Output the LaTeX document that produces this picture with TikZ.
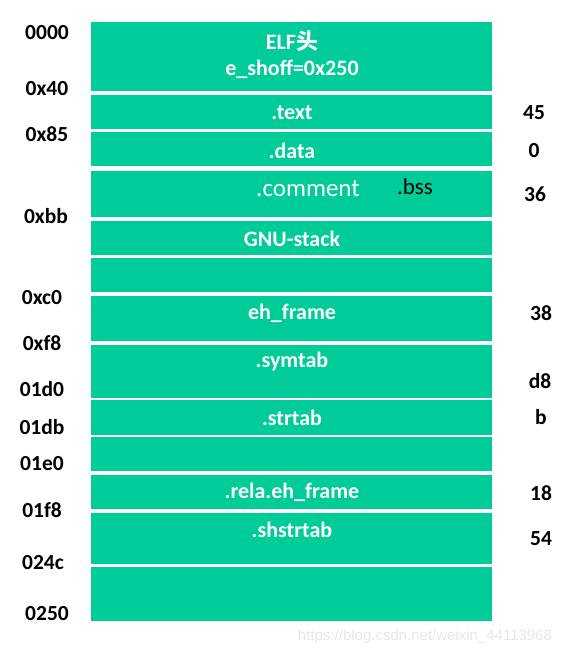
\documentclass[tikz,border=0pt]{standalone}
\usepackage{fontspec}
\setmainfont{Carlito}
\newfontfamily\cjk{Noto Sans CJK SC}
\newfontfamily\wmfont{Liberation Sans}
\definecolor{sec}{RGB}{0,204,153}
\definecolor{wm}{RGB}{232,232,232}
\begin{document}
\begin{tikzpicture}[x=1pt,y=-1pt,
  box/.style={fill=sec, draw=none, inner sep=0pt, minimum width=401pt},
  lab/.style={text=white, font=\fontsize{22}{23}\selectfont\bfseries, inner sep=0pt},
  off/.style={text=black, font=\fontsize{21.5}{22}\selectfont\bfseries, inner sep=0pt},
  sz/.style={text=black, font=\fontsize{21.5}{22}\selectfont\bfseries, inner sep=0pt}]
\useasboundingbox (0,0) rectangle (570,655);
% section boxes (top, bottom)
\foreach \n/\t/\b in {1/22/91, 2/95/129, 3/132/166, 4/171/217, 5/221/255, 6/258/292,
  7/296/341, 8/345/398, 9/400/435, 10/437/471, 11/475/509, 12/513/564, 13/567/621}{
  \node[box, minimum height={\b-\t}, anchor=north west] (b\n) at (91,\t) {};
}
% box labels
\node[lab] (t1a) at (292,41) {ELF{\cjk\bfseries 头}};
\node[lab] (t1b) at (292,69) {e\_shoff=0x250};
\node[lab] (t2) at (292,113) {.text};
\node[lab] (t3) at (292,151) {.data};
\node[text=white, font=\fontsize{25}{26}\selectfont, inner sep=0pt] (t4) at (308,189) {.comment};
\node[text=black, font=\fontsize{23}{24}\selectfont, inner sep=0pt] (t4b) at (415,187) {.bss};
\node[lab] (t5) at (292,239) {GNU-stack};
\node[lab] (t7) at (292,313) {eh\_frame};
\node[lab] (t8) at (292,362) {.symtab};
\node[lab] (t9) at (292,418) {.strtab};
\node[lab] (t11) at (292,492) {.rela.eh\_frame};
\node[lab] (t12) at (292,530) {.shstrtab};
% offsets
\node[off] (o1) at (47,33) {0000};
\node[off] (o2) at (47,89) {0x40};
\node[off] (o3) at (47,134) {0x85};
\node[off] (o4) at (46,216) {0xbb};
\node[off] (o5) at (42,298) {0xc0};
\node[off] (o6) at (42,343) {0xf8};
\node[off] (o7) at (42,389) {01d0};
\node[off] (o8) at (42,427) {01db};
\node[off] (o9) at (42,464) {01e0};
\node[off] (o10) at (42,510) {01f8};
\node[off] (o11) at (43,563) {024c};
\node[off] (o12) at (47,614) {0250};
% sizes
\node[sz] (s2) at (534,113) {45};
\node[sz] (s3) at (534,151) {0};
\node[sz] (s4) at (535,194) {36};
\node[sz] (s7) at (541,313) {38};
\node[sz] (s8) at (540,381) {d8};
\node[sz] (s9) at (541,417) {b};
\node[sz] (s11) at (541,493) {18};
\node[sz] (s12) at (541,539) {54};
% watermark
\node[text=wm, font=\fontsize{15}{16}\selectfont\wmfont, inner sep=0pt] (wm) at (425,637) {https://blog.csdn.net/weixin\_44113968};
\end{tikzpicture}
\end{document}
